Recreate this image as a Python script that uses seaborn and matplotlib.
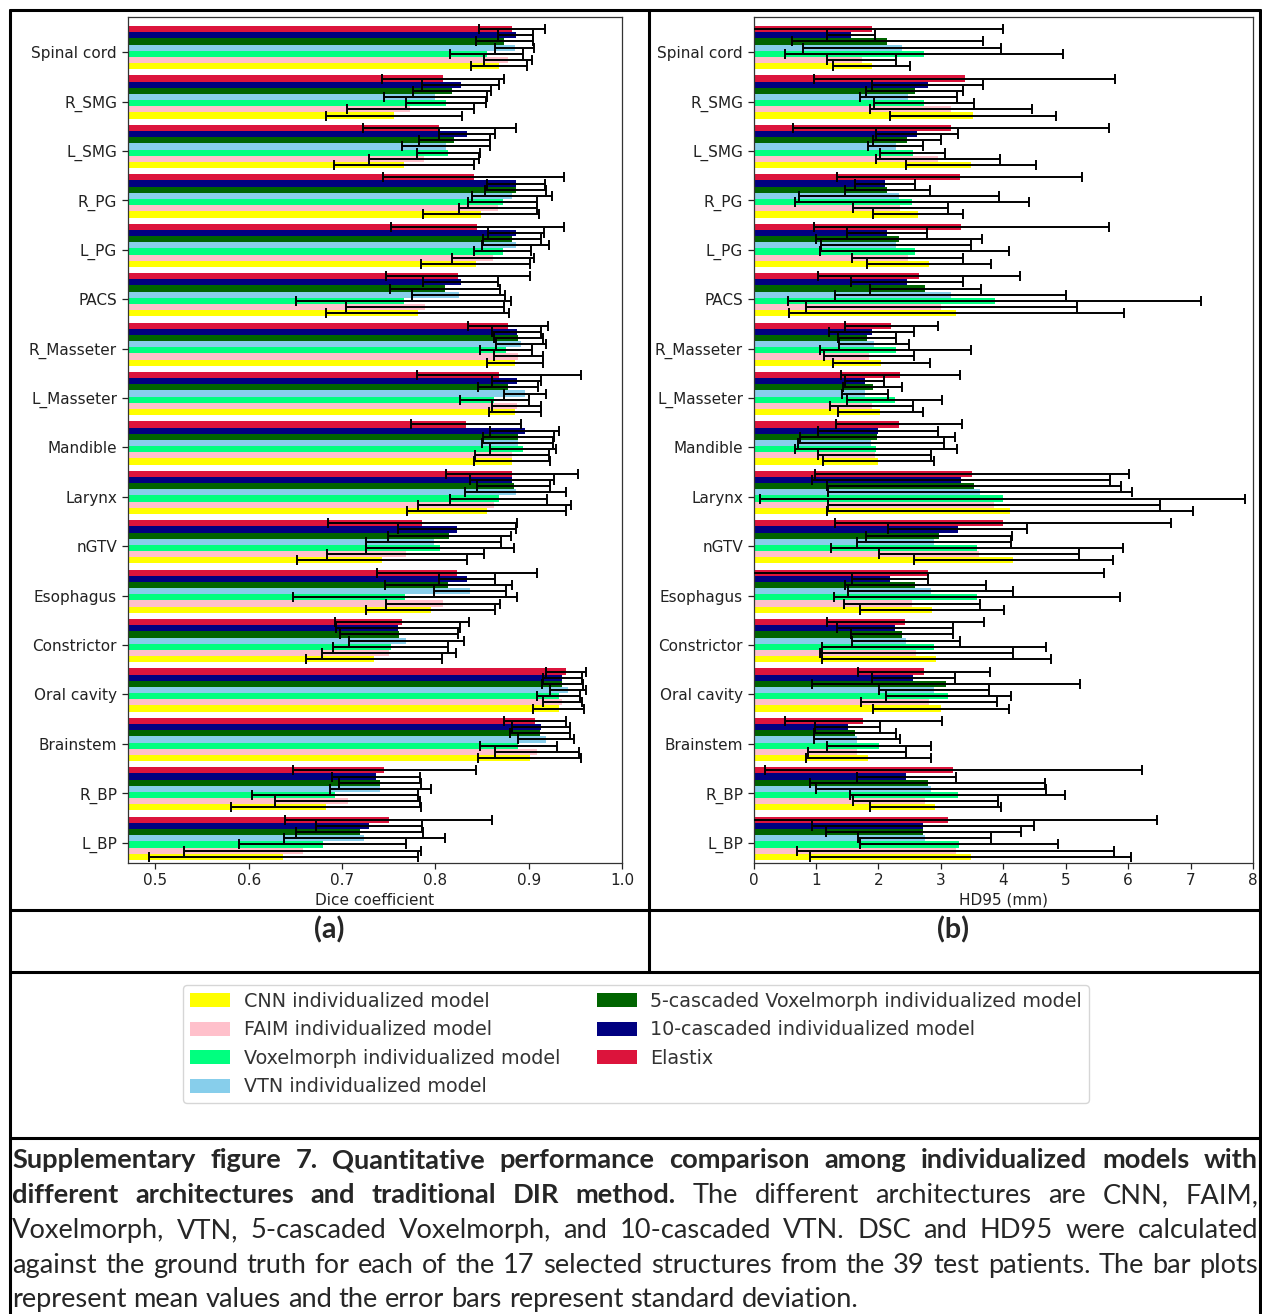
"""Supplementary figure 7: DSC and HD95 of individualized models vs Elastix."""

import numpy as np
import pandas as pd
import matplotlib
matplotlib.use("Agg")
import matplotlib.pyplot as plt
from matplotlib.patches import Patch
from matplotlib.lines import Line2D
from matplotlib import font_manager
import seaborn as sns

W, H = 1262, 1314

structures = ["Spinal cord", "R_SMG", "L_SMG", "R_PG", "L_PG", "PACS", "R_Masseter",
              "L_Masseter", "Mandible", "Larynx", "nGTV", "Esophagus", "Constrictor",
              "Oral cavity", "Brainstem", "R_BP", "L_BP"]

models = ["CNN individualized model", "FAIM individualized model",
          "Voxelmorph individualized model", "VTN individualized model",
          "5-cascaded Voxelmorph individualized model",
          "10-cascaded individualized model", "Elastix"]
colors = ["#FFFF00", "#FFC0CB", "#00FF7F", "#87CEEB", "#006400", "#000080", "#DC143C"]

# Dice coefficient (mean, sd) per model, in structure order
dice_cnn = [0.868, 0.756, 0.766, 0.849, 0.843, 0.781, 0.885, 0.885, 0.882, 0.855, 0.743, 0.795, 0.734, 0.932, 0.901, 0.683, 0.637]
dice_cnn_sd = [0.030, 0.073, 0.075, 0.062, 0.058, 0.098, 0.030, 0.028, 0.041, 0.085, 0.091, 0.069, 0.073, 0.027, 0.055, 0.102, 0.144]
dice_faim = [0.878, 0.773, 0.788, 0.867, 0.862, 0.789, 0.889, 0.887, 0.882, 0.863, 0.768, 0.808, 0.750, 0.936, 0.909, 0.706, 0.658]
dice_faim_sd = [0.026, 0.068, 0.059, 0.042, 0.044, 0.085, 0.026, 0.026, 0.040, 0.082, 0.084, 0.061, 0.072, 0.021, 0.045, 0.078, 0.127]
dice_vxm = [0.855, 0.811, 0.814, 0.872, 0.872, 0.766, 0.876, 0.863, 0.894, 0.868, 0.805, 0.767, 0.752, 0.932, 0.889, 0.692, 0.679]
dice_vxm_sd = [0.039, 0.043, 0.034, 0.037, 0.031, 0.115, 0.028, 0.037, 0.035, 0.052, 0.079, 0.120, 0.062, 0.023, 0.041, 0.089, 0.090]
dice_vtn = [0.885, 0.800, 0.811, 0.882, 0.886, 0.825, 0.892, 0.896, 0.888, 0.886, 0.798, 0.837, 0.769, 0.942, 0.919, 0.741, 0.724]
dice_vtn_sd = [0.021, 0.055, 0.047, 0.043, 0.036, 0.050, 0.027, 0.023, 0.038, 0.054, 0.072, 0.039, 0.062, 0.019, 0.030, 0.054, 0.086]
dice_c5 = [0.874, 0.818, 0.820, 0.886, 0.882, 0.810, 0.889, 0.878, 0.889, 0.884, 0.815, 0.814, 0.761, 0.936, 0.912, 0.741, 0.719]
dice_c5_sd = [0.031, 0.042, 0.038, 0.033, 0.031, 0.059, 0.026, 0.032, 0.038, 0.039, 0.066, 0.068, 0.063, 0.022, 0.032, 0.044, 0.068]
dice_c10 = [0.886, 0.827, 0.834, 0.886, 0.886, 0.827, 0.887, 0.887, 0.896, 0.882, 0.823, 0.834, 0.760, 0.936, 0.913, 0.736, 0.729]
dice_c10_sd = [0.019, 0.041, 0.030, 0.031, 0.030, 0.040, 0.026, 0.026, 0.037, 0.045, 0.063, 0.030, 0.066, 0.021, 0.031, 0.047, 0.057]
dice_elx = [0.882, 0.808, 0.804, 0.841, 0.845, 0.824, 0.878, 0.868, 0.833, 0.882, 0.786, 0.823, 0.764, 0.940, 0.907, 0.745, 0.750]
dice_elx_sd = [0.035, 0.065, 0.082, 0.097, 0.093, 0.077, 0.043, 0.088, 0.059, 0.071, 0.101, 0.086, 0.072, 0.021, 0.033, 0.098, 0.111]

# HD95 in mm (mean, sd) per model
hd_cnn = [1.89, 3.52, 3.48, 2.63, 2.81, 3.25, 2.05, 2.03, 2.00, 4.11, 4.16, 2.86, 2.93, 3.01, 1.84, 2.91, 3.48]
hd_cnn_sd = [0.61, 1.33, 1.04, 0.72, 1.00, 2.68, 0.77, 0.68, 0.89, 2.93, 1.59, 1.16, 1.83, 1.09, 1.00, 1.05, 2.57]
hd_faim = [1.73, 3.16, 2.95, 2.35, 2.47, 3.01, 1.85, 1.89, 1.94, 3.85, 3.61, 2.54, 2.61, 2.81, 1.66, 2.75, 3.24]
hd_faim_sd = [0.55, 1.30, 0.99, 0.76, 0.89, 2.17, 0.72, 0.67, 0.91, 2.66, 1.60, 1.09, 1.55, 1.09, 0.79, 1.16, 2.54]
hd_vxm = [2.73, 2.73, 2.55, 2.54, 2.58, 3.86, 2.28, 2.26, 1.96, 3.99, 3.58, 3.58, 2.89, 3.12, 2.01, 3.27, 3.29]
hd_vxm_sd = [2.23, 0.80, 0.52, 1.87, 1.52, 3.31, 1.21, 0.76, 1.30, 3.88, 2.34, 2.29, 1.79, 1.00, 0.83, 1.72, 1.58]
hd_vtn = [2.38, 2.48, 2.28, 2.33, 2.28, 3.16, 1.93, 1.79, 1.88, 3.63, 2.89, 2.84, 2.44, 2.89, 1.66, 2.84, 2.74]
hd_vtn_sd = [1.58, 0.78, 0.44, 1.60, 1.20, 1.85, 0.56, 0.37, 1.17, 2.44, 1.23, 1.32, 0.86, 0.88, 0.69, 1.84, 1.07]
hd_c5 = [2.14, 2.58, 2.46, 2.14, 2.33, 2.75, 1.82, 1.91, 1.98, 3.53, 2.97, 2.59, 2.38, 3.08, 1.63, 2.79, 2.72]
hd_c5_sd = [1.53, 0.78, 0.55, 0.68, 1.33, 0.89, 0.47, 0.47, 1.24, 2.35, 1.17, 1.13, 0.82, 2.15, 0.66, 1.88, 1.56]
hd_c10 = [1.56, 2.79, 2.62, 2.11, 2.14, 2.46, 1.89, 1.78, 1.99, 3.32, 3.27, 2.19, 2.26, 2.56, 1.51, 2.45, 2.72]
hd_c10_sd = [0.38, 0.89, 0.66, 0.48, 0.64, 0.90, 0.68, 0.31, 0.96, 2.39, 1.11, 0.61, 0.93, 0.66, 0.52, 0.79, 1.78]
hd_elx = [1.89, 3.38, 3.17, 3.30, 3.33, 2.65, 2.21, 2.35, 2.33, 3.50, 3.99, 2.79, 2.43, 2.73, 1.76, 3.20, 3.11]
hd_elx_sd = [2.11, 2.41, 2.53, 1.96, 2.36, 1.62, 0.75, 0.95, 1.01, 2.52, 2.69, 2.82, 1.26, 1.05, 1.26, 3.02, 3.35]

dice_ticks = [0.5, 0.6, 0.7, 0.8, 0.9, 1.0]
hd_ticks = [0, 1, 2, 3, 4, 5, 6, 7, 8]

caption_lines = [
    [("Supplementary figure 7. Quantitative performance comparison among individualized models with", "bold")],
    [("different architectures and traditional DIR method.", "bold"),
     ("The different architectures are CNN, FAIM,", "normal")],
    [("Voxelmorph, VTN, 5-cascaded Voxelmorph, and 10-cascaded VTN. DSC and HD95 were calculated", "normal")],
    [("against the ground truth for each of the 17 selected structures from the 39 test patients. The bar plots", "normal")],
    [("represent mean values and the error bars represent standard deviation.", "normal")],
]


def build_frame(means, sds):
    rows = []
    for model, m, s in zip(models, means, sds):
        for st, v, e in zip(structures, m, s):
            rows.append({"structure": st, "model": model, "value": v, "sd": e})
    return pd.DataFrame(rows)


def px_axes(fig, left, top, right, bottom):
    return fig.add_axes([left / W, 1 - bottom / H, (right - left) / W, (bottom - top) / H])


def draw_panel(ax, df, xlabel, xlim, xticks):
    hue_order = models[::-1]
    sns.barplot(data=df, x="value", y="structure", hue="model", order=structures,
                hue_order=hue_order, palette=dict(zip(models, colors)), orient="h",
                width=0.875, saturation=1, errorbar=None, legend=False,
                linewidth=0, ax=ax)
    bar_containers = list(ax.containers)
    for container, model in zip(bar_containers, hue_order):
        sub = df[df.model == model].set_index("structure").loc[structures]
        ys = [b.get_y() + b.get_height() / 2 for b in container]
        ax.errorbar(sub["value"].values, ys, xerr=sub["sd"].values, fmt="none",
                    ecolor="black", elinewidth=1.4, capsize=3.5, capthick=1.4, zorder=3)
    ax.set_xlim(*xlim)
    ax.set_xticks(xticks)
    ax.set_xticklabels([str(t) for t in xticks], family="DejaVu Sans")
    ax.set_yticks(np.arange(len(structures)) + 0.09)
    ax.set_yticklabels(structures, family="DejaVu Sans")
    ax.set_ylim(16.5, -0.614)
    ax.set_ylabel("")
    ax.set_xlabel(xlabel, fontsize=11, color="#222222", labelpad=3, family="DejaVu Sans")
    ax.tick_params(labelsize=11, colors="#222222", length=4, width=0.9)
    for sp in ax.spines.values():
        sp.set_visible(True)
        sp.set_color("#333333")
        sp.set_linewidth(0.9)


def fig_line(fig, x0, y0, x1, y1, lw=2.2):
    fig.add_artist(Line2D([x0 / W, x1 / W], [1 - y0 / H, 1 - y1 / H],
                          transform=fig.transFigure, color="black", linewidth=lw))


def pick_font(candidates):
    names = {f.name for f in font_manager.fontManager.ttflist}
    for c in candidates:
        if c in names:
            return c
    return "DejaVu Sans"


sns.set_style("ticks")
plt.rcParams["font.family"] = ["DejaVu Sans"]

fig = plt.figure(figsize=(W / 100, H / 100), dpi=100)

ax_a = px_axes(fig, 127.5, 17.3, 622, 863)
draw_panel(ax_a, build_frame(
    [dice_cnn, dice_faim, dice_vxm, dice_vtn, dice_c5, dice_c10, dice_elx],
    [dice_cnn_sd, dice_faim_sd, dice_vxm_sd, dice_vtn_sd, dice_c5_sd, dice_c10_sd, dice_elx_sd]),
    "Dice coefficient", (0.47, 1.0), dice_ticks)

ax_b = px_axes(fig, 753.5, 17.3, 1253, 863)
draw_panel(ax_b, build_frame(
    [hd_cnn, hd_faim, hd_vxm, hd_vtn, hd_c5, hd_c10, hd_elx],
    [hd_cnn_sd, hd_faim_sd, hd_vxm_sd, hd_vtn_sd, hd_c5_sd, hd_c10_sd, hd_elx_sd]),
    "HD95 (mm)", (0, 8), hd_ticks)

# table-like frame around the panels
fig_line(fig, 10, 10, 1260, 10)
fig_line(fig, 10, 10, 10, H)
fig_line(fig, 1259.5, 10, 1259.5, H)
fig_line(fig, 649, 10, 649, 972)
fig_line(fig, 10, 910, 1260, 910)
fig_line(fig, 10, 972, 1260, 972)
fig_line(fig, 10, 1138, 1260, 1138)

renderer = fig.canvas.get_renderer()
cap_font = pick_font(["Lato", "Open Sans", "Liberation Sans"])

# size the caption font so the unjustified last line is as wide as in the reference
last_text = " ".join(c for c, _ in caption_lines[-1])
probe = fig.text(0, 0, last_text, family=cap_font, fontsize=20)
cap_size = 20 * 853 / probe.get_window_extent(renderer).width
probe.remove()

fig.text(329 / W, 1 - 930 / H, "(a)", family=cap_font, fontweight="bold",
         fontsize=cap_size * 1.05, ha="center", va="center")
fig.text(953 / W, 1 - 930 / H, "(b)", family=cap_font, fontweight="bold",
         fontsize=cap_size * 1.05, ha="center", va="center")

handles = [Patch(facecolor=c, edgecolor="none", label=m) for m, c in zip(models, colors)]
leg = fig.legend(handles=handles, ncol=2, loc="upper center",
                 bbox_to_anchor=(636 / W, 1 - 985 / H), borderaxespad=0,
                 prop={"family": "DejaVu Sans", "size": 13.8},
                 handlelength=2.1, handleheight=0.75, handletextpad=0.7,
                 columnspacing=1.9, labelspacing=0.5, borderpad=0.35,
                 frameon=True, fancybox=True, edgecolor="#cccccc")
for t in leg.get_texts():
    t.set_color("#333333")

# justified caption, word by word
left_px, right_px = 12, 1258
baselines = [1168, 1203, 1238, 1273, 1307]
p1 = fig.text(0, 0, "x x", family=cap_font, fontsize=cap_size)
p2 = fig.text(0, 0, "xx", family=cap_font, fontsize=cap_size)
space_w = p1.get_window_extent(renderer).width - p2.get_window_extent(renderer).width
p1.remove()
p2.remove()

for i, (line, yb) in enumerate(zip(caption_lines, baselines)):
    words = []
    for chunk, weight in line:
        for w in chunk.split(" "):
            words.append((w, weight))
    arts = [fig.text(0, 1 - yb / H, w, family=cap_font, fontweight=wt,
                     fontsize=cap_size, ha="left", va="baseline") for w, wt in words]
    widths = [a.get_window_extent(renderer).width for a in arts]
    last = i == len(caption_lines) - 1
    gap = space_w if last else (right_px - left_px - sum(widths)) / (len(arts) - 1)
    x = left_px
    for a, wd in zip(arts, widths):
        a.set_x(x / W)
        x += wd + gap

fig.savefig("out.png", dpi=100)
